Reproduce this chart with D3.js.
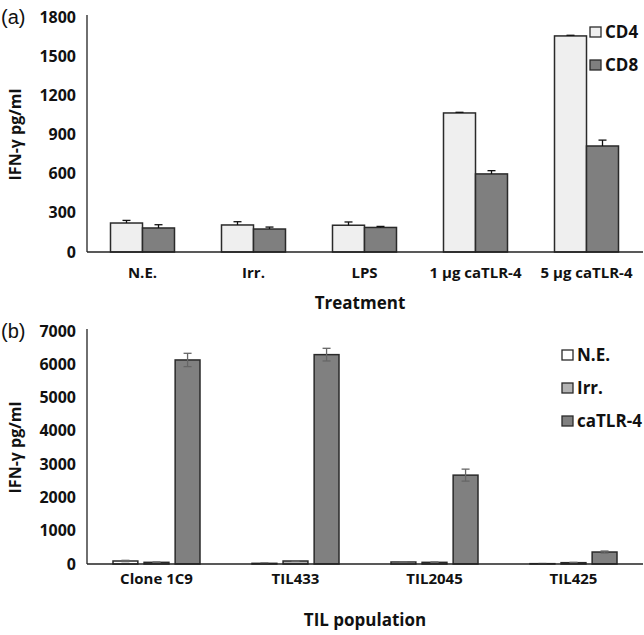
<!DOCTYPE html>
<html><head><meta charset="utf-8">
<script src="https://cdn.jsdelivr.net/npm/d3@7"></script>
<style>body{margin:0;background:#fff}svg{display:block}text{font-family:"Open Sans",Lato,sans-serif}</style>
</head><body>
<script>
// Panel (a)
const catsA = ["N.E.", "Irr.", "LPS", "1 μg caTLR-4", "5 μg caTLR-4"];
const seriesA = ["CD4", "CD8"];
const cd4 = [222, 207, 205, 1065, 1655];
const cd8 = [184, 176, 188, 598, 812];
const cd4Err = [20, 25, 25, 5, 5];
const cd8Err = [25, 15, 8, 25, 45];
const ticksA = [0, 300, 600, 900, 1200, 1500, 1800];
const colorsA = ["#efefef", "#7f7f7f"];

// Panel (b)
const catsB = ["Clone 1C9", "TIL433", "TIL2045", "TIL425"];
const seriesB = ["N.E.", "Irr.", "caTLR-4"];
const ne = [90, 20, 60, 10];
const irr = [50, 90, 50, 40];
const catlr = [6130, 6290, 2670, 360];
const neErr = [20, 10, 10, 5];
const irrErr = [10, 10, 10, 10];
const catlrErr = [200, 190, 180, 30];
const ticksB = [0, 1000, 2000, 3000, 4000, 5000, 6000, 7000];
const colorsB = ["#ffffff", "#b3b3b3", "#808080"];

const svg = d3.select("body").append("svg").attr("width", 644).attr("height", 635);

function panel(o) {
  const g = svg.append("g");
  const y = d3.scaleLinear().domain([0, o.max]).range([o.y0, o.y1]);
  const x0 = d3.scaleBand().domain(o.cats).range([87, o.xEnd]);
  const c = x0.bandwidth() / 2;
  const x1 = d3.scaleBand().domain(o.series).range([c - o.half, c + o.half]).paddingInner(o.pin);
  const ya = d3.axisLeft(y).tickValues(o.ticks).tickFormat(d3.format("d")).tickSize(0).tickPadding(11);
  const yg = g.append("g").attr("transform", "translate(87,0)").call(ya);
  yg.select(".domain").remove();
  yg.selectAll("text").attr("font-size", 16).attr("font-weight", "bold").attr("fill", "#111").style("font-family", "Open Sans");
  g.append("line").attr("x1", 87).attr("x2", 87).attr("y1", o.y1 - 2).attr("y2", o.y0).attr("stroke", "#222").attr("stroke-width", 1.3);
  const rows = o.cats.map((cat, i) => o.series.map((s, j) => ({cat, s, j, v: o.vals[j][i], e: o.errs[j][i]})));
  const grp = g.selectAll(".grp").data(rows).join("g").attr("transform", (d, i) => `translate(${x0(o.cats[i])},0)`);
  grp.selectAll("rect").data(d => d).join("rect")
    .attr("x", d => x1(d.s)).attr("width", x1.bandwidth())
    .attr("y", d => y(d.v)).attr("height", d => y(0) - y(d.v))
    .attr("fill", d => o.colors[d.j]).attr("stroke", "#2a2a2a").attr("stroke-width", 1.5);
  const eb = grp.selectAll(".eb").data(d => d).join("g");
  const cx = d => x1(d.s) + x1.bandwidth() / 2;
  eb.append("line")
    .attr("x1", cx).attr("x2", cx)
    .attr("y1", d => o.both ? y(Math.max(0, d.v - d.e)) : y(d.v)).attr("y2", d => y(d.v + d.e))
    .attr("stroke", o.errColor).attr("stroke-width", 1.3);
  eb.append("line")
    .attr("x1", d => cx(d) - 4).attr("x2", d => cx(d) + 4)
    .attr("y1", d => y(d.v + d.e)).attr("y2", d => y(d.v + d.e))
    .attr("stroke", o.errColor).attr("stroke-width", 1.3);
  if (o.both) {
    eb.append("line")
      .attr("x1", d => cx(d) - 4).attr("x2", d => cx(d) + 4)
      .attr("y1", d => y(Math.max(0, d.v - d.e))).attr("y2", d => y(Math.max(0, d.v - d.e)))
      .attr("stroke", o.errColor).attr("stroke-width", 1.3);
  }
  g.append("line").attr("x1", 87).attr("x2", 643).attr("y1", o.y0).attr("y2", o.y0).attr("stroke", "#222").attr("stroke-width", 1.3);
  g.selectAll(".xl").data(o.cats).join("text")
    .attr("x", d => x0(d) + c).attr("y", o.xlY).attr("text-anchor", "middle")
    .attr("font-size", 15).attr("font-weight", "bold").attr("fill", "#111").text(d => d);
  g.append("text").attr("x", o.titleX).attr("y", o.titleY).attr("text-anchor", "middle")
    .attr("font-size", 17).attr("font-weight", "bold").attr("fill", "#111").text(o.xTitle);
  g.append("text").attr("transform", `translate(21,${(o.y0 + o.y1) / 2}) rotate(-90)`).attr("text-anchor", "middle")
    .attr("font-size", 16).attr("font-weight", "bold").attr("fill", "#111").text("IFN-γ pg/ml");
  g.append("text").attr("x", 1).attr("y", o.y1 + 7).attr("font-size", 20).attr("fill", "#111").style("font-family", "Liberation Sans").text(o.tag);
  const lg = g.selectAll(".lg").data(o.series).join("g").attr("transform", (d, i) => `translate(${o.legX},${o.legY + i * o.legStep})`);
  lg.append("rect").attr("width", 11).attr("height", 10).attr("fill", (d, i) => o.colors[i]).attr("stroke", "#2a2a2a").attr("stroke-width", 1.3);
  lg.append("text").attr("x", 15).attr("y", 11).attr("font-size", 17).attr("font-weight", "bold").attr("fill", "#111").text(d => d);
}

panel({cats: catsA, series: seriesA, vals: [cd4, cd8], errs: [cd4Err, cd8Err], max: 1800, ticks: ticksA,
  y0: 252, y1: 17, xEnd: 642, half: 32, pin: 0, colors: colorsA, both: false, errColor: "#111",
  xlY: 278, xTitle: "Treatment", titleX: 360, titleY: 309, tag: "(a)", legX: 590, legY: 27, legStep: 33});

panel({cats: catsB, series: seriesB, vals: [ne, irr, catlr], errs: [neErr, irrErr, catlrErr], max: 7000, ticks: ticksB,
  y0: 564, y1: 331, xEnd: 643, half: 43.5, pin: 0.2, colors: colorsB, both: true, errColor: "#666",
  xlY: 584, xTitle: "TIL population", titleX: 365, titleY: 626, tag: "(b)", legX: 562, legY: 350, legStep: 33});
</script>
</body></html>
